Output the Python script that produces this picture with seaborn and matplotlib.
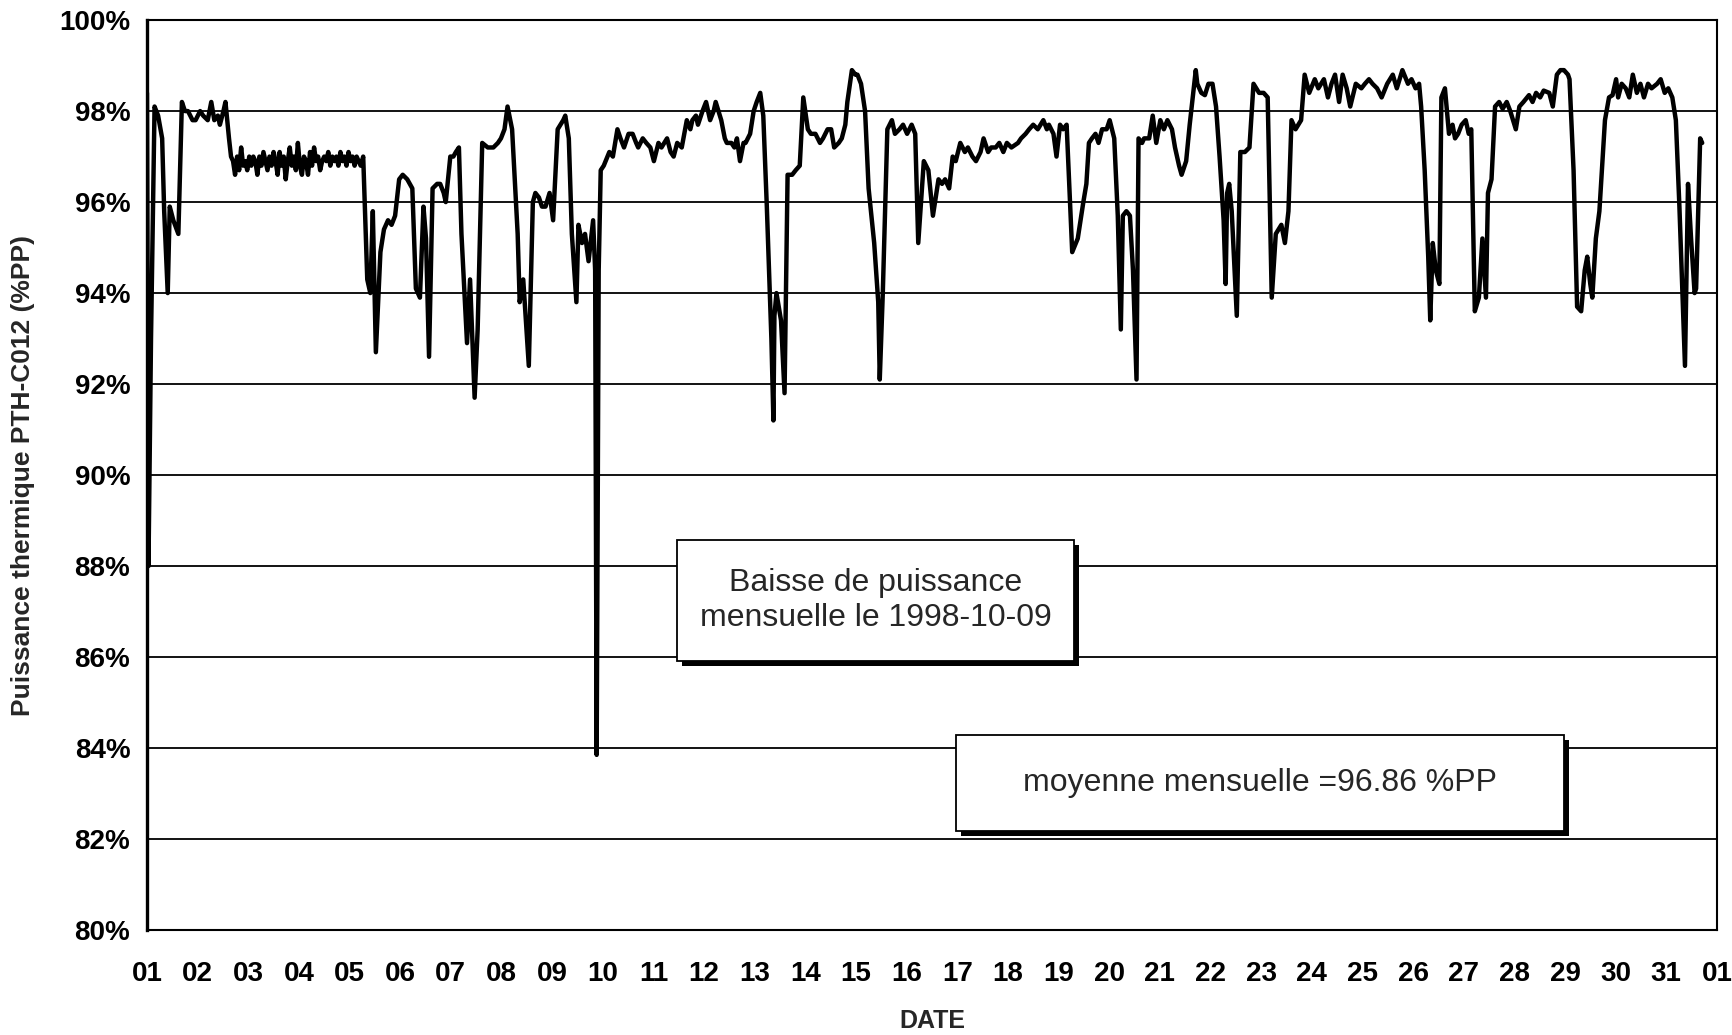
import pandas as pd
import numpy as np
import seaborn as sns
import matplotlib.pyplot as plt
from matplotlib.patches import Rectangle

# ------------------- DATA -------------------

# jour du mois (fraction de jour) et puissance thermique (%PP), octobre 1998
jour = [
    1.00, 1.03, 1.08, 1.15, 1.22, 1.30, 1.34, 1.41, 1.45, 1.52,
    1.62, 1.69, 1.75, 1.81, 1.90, 1.96, 2.05, 2.11, 2.20, 2.27,
    2.33, 2.40, 2.44, 2.51, 2.55, 2.62, 2.66, 2.70,
    2.74, 2.78, 2.82, 2.86, 2.90, 2.94, 2.98, 3.02, 3.06, 3.10,
    3.14, 3.18, 3.22, 3.26, 3.30, 3.34, 3.38, 3.42, 3.46, 3.50,
    3.54, 3.58, 3.62, 3.66, 3.70, 3.74, 3.78, 3.82, 3.86, 3.90,
    3.94, 3.98, 4.02, 4.06, 4.10, 4.14, 4.18, 4.22, 4.26, 4.30,
    4.34, 4.38, 4.42, 4.46, 4.50, 4.54, 4.58, 4.62, 4.66, 4.70,
    4.74, 4.78, 4.82, 4.86, 4.90, 4.94, 4.98, 5.02, 5.06, 5.10,
    5.14, 5.18, 5.22,
    5.27, 5.30, 5.35, 5.41, 5.46, 5.52, 5.61, 5.68, 5.76, 5.83,
    5.90, 5.98, 6.05, 6.14, 6.24, 6.31, 6.39, 6.46, 6.51, 6.57,
    6.64, 6.73, 6.79, 6.86, 6.90, 6.99, 7.05, 7.10, 7.16, 7.21,
    7.32, 7.38, 7.47, 7.53, 7.62, 7.73, 7.84, 7.93, 7.99, 8.06,
    8.12, 8.21, 8.32, 8.36, 8.43, 8.54, 8.62, 8.67, 8.74, 8.80,
    8.87, 8.95, 9.02, 9.11, 9.22, 9.26, 9.33, 9.39, 9.48, 9.52,
    9.59, 9.65, 9.72, 9.81, 9.85, 9.88, 9.92, 9.96,
    10.02, 10.13, 10.20, 10.29, 10.35, 10.42, 10.51, 10.59, 10.66, 10.70,
    10.79, 10.86, 10.94, 11.01, 11.10, 11.16, 11.27, 11.34, 11.40, 11.47,
    11.56, 11.66, 11.73, 11.77, 11.84, 11.88, 11.97, 12.04, 12.12, 12.19,
    12.23, 12.34, 12.41, 12.45, 12.54, 12.60, 12.65, 12.71, 12.78, 12.82,
    12.91, 12.98, 13.04, 13.11, 13.17, 13.24, 13.33, 13.37, 13.39, 13.43,
    13.52, 13.59, 13.65, 13.74, 13.81, 13.89, 13.96, 14.05, 14.11, 14.20,
    14.29, 14.35, 14.44, 14.51, 14.57, 14.66, 14.72, 14.79, 14.83, 14.92,
    14.99, 15.03, 15.10, 15.18, 15.25, 15.36, 15.44, 15.47, 15.53, 15.62,
    15.71, 15.77, 15.86, 15.93, 16.01, 16.10, 16.17, 16.23, 16.34, 16.43,
    16.52, 16.63, 16.70, 16.76, 16.84, 16.91, 16.97, 17.06, 17.15, 17.21,
    17.30, 17.37, 17.46, 17.52, 17.61, 17.67, 17.76, 17.83, 17.91, 17.98,
    18.07, 18.20, 18.26, 18.35, 18.42, 18.50, 18.59, 18.70, 18.77, 18.81,
    18.90, 18.96, 19.03, 19.09, 19.16, 19.23, 19.27, 19.38, 19.49, 19.55,
    19.60, 19.66, 19.73, 19.79, 19.86, 19.95, 20.01, 20.10, 20.17, 20.23,
    20.27, 20.34, 20.41, 20.47, 20.54, 20.58, 20.65, 20.69,
    20.79, 20.86, 20.93, 21.01, 21.08, 21.15, 21.24, 21.30, 21.38, 21.43,
    21.52, 21.59, 21.63, 21.71, 21.74, 21.82, 21.89, 21.96, 22.04, 22.11,
    22.18, 22.26, 22.30, 22.33, 22.37, 22.42, 22.52, 22.59, 22.68, 22.77,
    22.85, 22.96, 23.05, 23.13, 23.18, 23.21, 23.29, 23.40, 23.47, 23.54,
    23.60, 23.68, 23.79, 23.86, 23.95, 24.06, 24.13, 24.24, 24.32, 24.39,
    24.46, 24.54, 24.61, 24.69, 24.76, 24.87, 24.98, 25.05, 25.13, 25.20,
    25.29, 25.38, 25.49, 25.60, 25.68, 25.79, 25.90, 25.97, 26.05, 26.12,
    26.16, 26.23, 26.30, 26.34, 26.39, 26.45, 26.52, 26.56, 26.63, 26.71,
    26.78, 26.83, 26.89, 26.96, 27.04, 27.10, 27.15, 27.18, 27.22, 27.30,
    27.37, 27.44, 27.48, 27.55, 27.62, 27.70, 27.77, 27.85, 27.92, 28.03,
    28.10, 28.18, 28.29, 28.36, 28.43, 28.51, 28.58, 28.69, 28.76, 28.84,
    28.91, 28.98, 29.06, 29.09, 29.17, 29.24, 29.32, 29.39, 29.44, 29.50,
    29.54, 29.61, 29.68, 29.79, 29.87, 29.94, 30.01, 30.05, 30.12, 30.20,
    30.27, 30.34, 30.42, 30.49, 30.56, 30.64, 30.71, 30.82, 30.89, 30.97,
    31.04, 31.12, 31.19, 31.26, 31.37, 31.43, 31.49, 31.56, 31.59, 31.67,
    31.71,
]
puissance = [
    98.4, 88.0, 93.0, 98.1, 97.9, 97.4, 95.8, 94.0, 95.9, 95.6,
    95.3, 98.2, 98.0, 98.0, 97.8, 97.8, 98.0, 97.9, 97.8, 98.2,
    97.8, 97.9, 97.7, 98.0, 98.2, 97.4, 97.0, 96.9,
    96.6, 97.0, 96.7, 97.2, 96.8, 96.9, 96.7, 97.0, 96.8, 97.0,
    96.9, 96.6, 97.0, 96.8, 97.1, 96.9, 96.7, 97.0, 96.8, 97.1,
    96.9, 96.6, 97.1, 96.8, 97.0, 96.5, 96.9, 97.2, 96.8, 97.0,
    96.7, 97.3, 96.8, 96.6, 97.0, 96.9, 96.6, 97.1, 96.8, 97.2,
    96.9, 97.0, 96.7, 96.9, 97.0, 96.9, 97.1, 96.8, 97.0, 96.9,
    97.0, 96.8, 97.1, 96.9, 97.0, 96.8, 97.1, 96.9, 97.0, 96.8,
    97.0, 96.9, 96.8,
    97.0, 96.0, 94.3, 94.0, 95.8, 92.7, 94.9, 95.4, 95.6, 95.5,
    95.7, 96.5, 96.6, 96.5, 96.3, 94.1, 93.9, 95.9, 95.2, 92.6,
    96.3, 96.4, 96.4, 96.2, 96.0, 97.0, 97.0, 97.1, 97.2, 95.3,
    92.9, 94.3, 91.7, 93.2, 97.3, 97.2, 97.2, 97.3, 97.4, 97.6,
    98.1, 97.6, 95.3, 93.8, 94.3, 92.4, 96.0, 96.2, 96.1, 95.9,
    95.9, 96.2, 95.6, 97.6, 97.8, 97.9, 97.4, 95.3, 93.8, 95.5,
    95.1, 95.3, 94.7, 95.6, 94.5, 83.85, 94.5, 96.7,
    96.8, 97.1, 97.0, 97.6, 97.4, 97.2, 97.5, 97.5, 97.3, 97.2,
    97.4, 97.3, 97.2, 96.9, 97.3, 97.2, 97.4, 97.1, 97.0, 97.3,
    97.2, 97.8, 97.6, 97.8, 97.9, 97.7, 98.0, 98.2, 97.8, 98.0,
    98.2, 97.8, 97.4, 97.3, 97.3, 97.2, 97.4, 96.9, 97.3, 97.3,
    97.5, 98.0, 98.2, 98.4, 97.9, 95.9, 93.0, 91.2, 93.5, 94.0,
    93.4, 91.8, 96.6, 96.6, 96.7, 96.8, 98.3, 97.6, 97.5, 97.5,
    97.3, 97.4, 97.6, 97.6, 97.2, 97.3, 97.4, 97.7, 98.2, 98.9,
    98.8, 98.8, 98.6, 98.0, 96.3, 95.1, 93.8, 92.1, 94.0, 97.6,
    97.8, 97.5, 97.6, 97.7, 97.5, 97.7, 97.5, 95.1, 96.9, 96.7,
    95.7, 96.5, 96.4, 96.5, 96.3, 97.0, 96.9, 97.3, 97.1, 97.2,
    97.0, 96.9, 97.1, 97.4, 97.1, 97.2, 97.2, 97.3, 97.1, 97.3,
    97.2, 97.3, 97.4, 97.5, 97.6, 97.7, 97.6, 97.8, 97.6, 97.7,
    97.5, 97.0, 97.7, 97.6, 97.7, 95.9, 94.9, 95.2, 96.0, 96.4,
    97.3, 97.4, 97.5, 97.3, 97.6, 97.6, 97.8, 97.4, 95.7, 93.2,
    95.7, 95.8, 95.7, 94.5, 92.1, 97.4, 97.3, 97.4,
    97.4, 97.9, 97.3, 97.8, 97.6, 97.8, 97.6, 97.2, 96.8, 96.6,
    96.9, 97.7, 98.1, 98.9, 98.6, 98.4, 98.35, 98.6, 98.6, 98.1,
    97.0, 95.6, 94.2, 96.2, 96.4, 95.8, 93.5, 97.1, 97.1, 97.2,
    98.6, 98.4, 98.4, 98.3, 95.5, 93.9, 95.3, 95.5, 95.1, 95.8,
    97.8, 97.6, 97.8, 98.8, 98.4, 98.7, 98.5, 98.7, 98.3, 98.6,
    98.8, 98.2, 98.8, 98.5, 98.1, 98.6, 98.5, 98.6, 98.7, 98.6,
    98.5, 98.3, 98.6, 98.8, 98.5, 98.9, 98.6, 98.7, 98.5, 98.6,
    98.1, 96.7, 94.8, 93.4, 95.1, 94.5, 94.2, 98.3, 98.5, 97.5,
    97.7, 97.4, 97.5, 97.7, 97.8, 97.5, 97.6, 95.9, 93.6, 93.9,
    95.2, 93.9, 96.2, 96.5, 98.1, 98.2, 98.05, 98.2, 98.0, 97.6,
    98.1, 98.2, 98.35, 98.2, 98.4, 98.3, 98.45, 98.4, 98.1, 98.8,
    98.9, 98.9, 98.8, 98.7, 96.7, 93.7, 93.6, 94.5, 94.8, 94.2,
    93.9, 95.2, 95.8, 97.8, 98.3, 98.35, 98.7, 98.3, 98.6, 98.5,
    98.3, 98.8, 98.4, 98.6, 98.3, 98.6, 98.5, 98.6, 98.7, 98.4,
    98.5, 98.3, 97.8, 95.9, 92.4, 96.4, 95.2, 94.0, 94.1, 97.4,
    97.3,
]

jours_ticks = list(range(1, 33))
jours_labels = [f"{d:02d}" for d in range(1, 32)] + ["01"]
pct_ticks = list(range(80, 101, 2))
pct_labels = [f"{p}%" for p in pct_ticks]

titre_y = "Puissance thermique PTH-C012 (%PP)"
titre_x = "DATE"
note_baisse = "Baisse de puissance\nmensuelle le 1998-10-09"
note_moyenne = "moyenne mensuelle =96.86 %PP"

# ------------------- PLOT -------------------

sns.set_style("white")
plt.rcParams['font.family'] = ['Liberation Sans', 'DejaVu Sans']

df = pd.DataFrame({"jour": jour, "puissance": puissance})

fig = plt.figure(figsize=(17.33, 10.35), dpi=100)
ax = fig.add_axes([0.0848, 0.1014, 0.9059, 0.8792])

sns.lineplot(data=df, x="jour", y="puissance", ax=ax, color="black",
             linewidth=3.2, estimator=None, sort=False, zorder=3)

ax.set_xlim(1, 32)
ax.set_ylim(80, 100)
ax.set_xticks(jours_ticks)
ax.set_xticklabels(jours_labels, fontsize=20, fontweight="bold")
ax.set_yticks(pct_ticks)
ax.set_yticklabels(pct_labels, fontsize=20, fontweight="bold")
ax.yaxis.grid(True, color="black", linewidth=1.3)
ax.xaxis.grid(False)
ax.set_axisbelow(True)
ax.tick_params(axis="x", direction="inout", length=14, width=1.5, pad=15, colors="black")
ax.tick_params(axis="y", direction="out", length=8, width=1.3, pad=4, colors="black")
for s in ax.spines.values():
    s.set_visible(True)
    s.set_color("black")
    s.set_linewidth(1.5)
ax.spines["left"].set_linewidth(2.4)

ax.set_xlabel(titre_x, fontsize=18, fontweight="bold")
ax.set_ylabel(titre_y, fontsize=19, fontweight="bold")
ax.xaxis.set_label_coords(0.5, -0.087)
ax.yaxis.set_label_coords(-0.071, 0.5)


# text boxes with drop shadow (axes fraction)
def boite(x0, y0, x1, y1, texte):
    dx, dy = 5 / 1570, 5 / 910
    ax.add_patch(Rectangle((x0 + dx, y0 - dy), x1 - x0, y1 - y0, transform=ax.transAxes,
                           facecolor="black", edgecolor="none", zorder=5))
    ax.add_patch(Rectangle((x0, y0), x1 - x0, y1 - y0, transform=ax.transAxes,
                           facecolor="white", edgecolor="black", linewidth=1.3, zorder=6))
    ax.text((x0 + x1) / 2, (y0 + y1) / 2, texte, transform=ax.transAxes, ha="center",
            va="center", fontsize=23, linespacing=1.25, zorder=7)


boite(0.3376, 0.2956, 0.5904, 0.4286, note_baisse)
boite(0.5153, 0.1088, 0.9025, 0.2143, note_moyenne)

fig.savefig("out.png", dpi=100)
